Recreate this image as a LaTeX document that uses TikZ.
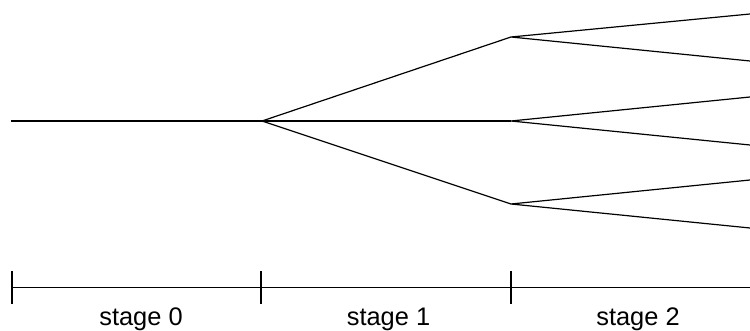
\documentclass[tikz,border=0pt]{standalone}
\usepackage{fontspec}
\setmainfont{Liberation Sans}
\begin{document}
\begin{tikzpicture}[x=0.5pt,y=-0.5pt,line width=0.6pt,
  lbl/.style={anchor=base,inner sep=0pt,font=\fontsize{12.7}{14}\selectfont}]
\useasboundingbox (0,0) rectangle (750,331);
\coordinate (s) at (11,121);
\coordinate (r) at (262,121);
\coordinate (a) at (511,37);
\coordinate (b) at (511,121);
\coordinate (c) at (511,204);
\coordinate (a1) at (750,14);
\coordinate (a2) at (750,61);
\coordinate (b1) at (750,97);
\coordinate (b2) at (750,145);
\coordinate (c1) at (750,180);
\coordinate (c2) at (750,228);
\draw (s) -- (r);
\draw (r) -- (a);
\draw (r) -- (b);
\draw (r) -- (c);
\draw (a1) -- (a) -- (a2);
\draw (b1) -- (b) -- (b2);
\draw (c1) -- (c) -- (c2);
% axis
\coordinate (t0) at (12,287.5);
\coordinate (t1) at (261,287.5);
\coordinate (t2) at (511,287.5);
\coordinate (t3) at (750,287.5);
\draw (t0) -- (t3);
\foreach \t in {t0,t1,t2} \draw ([yshift=-16.5*0.5pt]\t) -- ([yshift=16.5*0.5pt]\t);
\node[lbl] (l0) at (141,326) {stage 0};
\node[lbl] (l1) at (388.5,326) {stage 1};
\node[lbl] (l2) at (638,326) {stage 2};
\end{tikzpicture}
\end{document}
